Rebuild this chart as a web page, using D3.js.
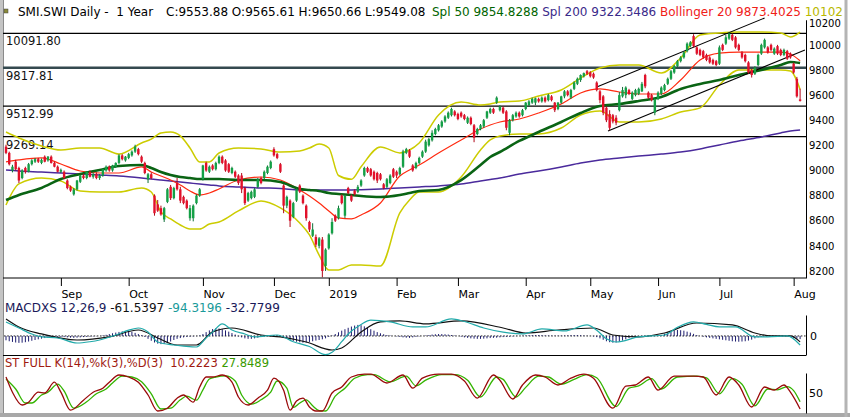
<!DOCTYPE html>
<html lang="en">
<head>
<meta charset="utf-8">
<title>SMI.SWI Daily - 1 Year</title>
<script src="https://cdn.jsdelivr.net/npm/d3@7"></script>
<style>
  body { margin: 0; background: #fff; }
  svg { display: block; font-family: "DejaVu Sans", sans-serif; }
</style>
</head>
<body>
<script>

var w = 850;
var h = 417;

// daily candles [open, high, low, close], Aug 2018 - Aug 2019
var ohlc = [
  [9190,9205,9130,9140],[9140,9150,9040,9050],[9000,9045,8985,9030],[9070,9085,9000,9010],[9020,9030,8900,8920],
  [8940,9010,8930,9000],[9020,9030,8975,8990],[8990,9060,8985,9050],[9050,9090,9040,9080],[9070,9100,9060,9090],
  [9090,9100,9060,9070],[9060,9095,9050,9085],[9110,9120,9065,9070],[9080,9115,9070,9110],[9110,9120,9055,9060],
  [9060,9070,9025,9030],[9030,9040,8985,8990],[8990,9015,8980,9005],[8990,9000,8930,8940],[8920,8930,8850,8860],
  [8870,8880,8830,8840],[8810,8860,8800,8850],[8850,8925,8840,8920],[8910,8965,8900,8960],[8960,8975,8930,8940],
  [8940,8995,8930,8990],[8990,9000,8945,8950],[8950,8980,8935,8970],[8970,8985,8930,8940],[8940,8970,8925,8960],
  [8960,9015,8950,9010],[9000,9040,8990,9030],[9030,9040,8990,9000],[9000,9045,8990,9040],[9030,9065,9020,9060],
  [9060,9130,9050,9120],[9120,9130,9080,9090],[9080,9115,9070,9110],[9100,9140,9090,9130],[9120,9160,9110,9150],
  [9150,9205,9140,9190],[9170,9180,9120,9130],[9110,9120,9060,9070],[9060,9070,8970,8980],[8930,8980,8900,8970],
  [8970,8985,8930,8940],[8800,8810,8640,8660],[8730,8765,8670,8680],[8700,8720,8640,8650],[8610,8710,8590,8700],
  [8750,8860,8740,8850],[8870,8885,8765,8780],[8780,8870,8770,8860],[8900,8940,8840,8850],[8850,8870,8740,8760],
  [8790,8800,8730,8740],[8760,8770,8690,8700],[8620,8725,8600,8700],[8620,8730,8595,8720],[8740,8810,8730,8800],
  [8800,8860,8790,8850],[8930,9045,8920,9040],[9060,9070,8990,9000],[8990,9040,8980,9030],[9040,9050,9000,9010],
  [9010,9070,9000,9060],[9060,9120,9050,9110],[9110,9120,9050,9060],[9080,9090,8990,9000],[9050,9060,8980,8990],
  [8980,9030,8970,9020],[8990,9000,8940,8950],[8960,8970,8885,8900],[8960,8980,8820,8850],[8860,8870,8725,8740],
  [8760,8830,8750,8820],[8780,8840,8770,8830],[8790,8860,8780,8850],[8870,8940,8860,8930],[8940,8950,8890,8900],
  [8940,9000,8930,8990],[8980,9040,8970,9030],[9020,9080,9010,9070],[9170,9185,9110,9120],[9130,9140,9090,9100],
  [9050,9060,8980,8990],[8880,8890,8660,8720],[8720,8800,8700,8790],[8760,8770,8550,8600],[8630,8750,8620,8740],
  [8760,8860,8750,8850],[8880,8890,8820,8830],[8800,8810,8730,8740],[8720,8730,8600,8620],[8590,8600,8510,8530],
  [8480,8580,8470,8530],[8470,8490,8390,8410],[8400,8470,8380,8460],[8450,8470,8150,8200],[8240,8380,8200,8370],
  [8380,8500,8370,8490],[8500,8620,8490,8590],[8640,8650,8590,8600],[8620,8720,8610,8700],[8800,8810,8730,8740],
  [8640,8810,8620,8800],[8860,8870,8810,8820],[8800,8810,8750,8760],[8840,8850,8800,8810],[8830,8885,8820,8870],
  [8880,8930,8870,8920],[8960,9030,8950,9020],[9020,9030,8980,8990],[9010,9020,8950,8960],[8990,9000,8920,8930],
  [8980,8990,8900,8920],[8970,8980,8920,8930],[8890,8900,8850,8860],[8870,8940,8860,8930],[8900,8970,8890,8960],
  [9010,9020,8940,8950],[8990,9000,8940,8960],[8970,9030,8960,9020],[9030,9165,9020,9150],[9140,9180,9130,9170],
  [9160,9170,9100,9110],[9040,9050,8990,9000],[9020,9070,9010,9060],[9060,9110,9050,9100],[9110,9160,9100,9150],
  [9150,9245,9140,9230],[9200,9260,9190,9250],[9240,9320,9230,9300],[9290,9340,9280,9330],[9320,9370,9310,9360],
  [9350,9400,9340,9390],[9390,9440,9380,9430],[9420,9470,9410,9460],[9440,9500,9430,9490],[9470,9480,9430,9440],
  [9450,9460,9400,9410],[9460,9470,9420,9430],[9440,9450,9400,9410],[9380,9430,9370,9420],[9420,9430,9360,9370],
  [9360,9370,9225,9260],[9290,9340,9280,9330],[9330,9370,9320,9360],[9350,9410,9340,9400],[9420,9475,9410,9470],
  [9460,9500,9450,9490],[9490,9500,9450,9460],[9540,9590,9530,9580],[9480,9520,9470,9510],[9500,9510,9450,9460],
  [9470,9480,9320,9340],[9300,9410,9280,9400],[9400,9450,9390,9440],[9430,9470,9420,9460],[9460,9470,9420,9430],
  [9440,9490,9430,9480],[9490,9545,9480,9540],[9520,9560,9510,9550],[9540,9580,9530,9570],[9540,9580,9520,9575],
  [9570,9580,9540,9550],[9550,9590,9540,9580],[9580,9590,9540,9550],[9560,9610,9550,9600],[9590,9600,9550,9560],
  [9540,9545,9465,9480],[9490,9545,9480,9540],[9540,9595,9530,9590],[9590,9640,9575,9630],[9630,9640,9590,9600],
  [9580,9650,9570,9640],[9650,9710,9640,9700],[9690,9740,9680,9730],[9720,9765,9705,9760],[9750,9780,9740,9775],
  [9790,9800,9760,9770],[9780,9790,9740,9750],[9770,9780,9730,9740],[9700,9710,9630,9640],[9630,9640,9535,9560],
  [9590,9600,9440,9460],[9500,9510,9385,9400],[9450,9480,9320,9340],[9440,9450,9375,9390],[9420,9440,9360,9380],
  [9480,9625,9470,9600],[9590,9665,9580,9640],[9600,9670,9575,9660],[9640,9650,9600,9610],[9570,9630,9560,9620],
  [9600,9650,9590,9640],[9610,9660,9600,9650],[9630,9705,9625,9690],[9760,9770,9655,9670],[9620,9630,9570,9580],
  [9600,9610,9550,9560],[9460,9580,9440,9570],[9570,9630,9560,9620],[9610,9670,9600,9660],[9640,9690,9630,9680],
  [9690,9740,9680,9730],[9730,9800,9720,9790],[9780,9840,9770,9830],[9830,9880,9820,9870],[9870,9910,9860,9900],
  [9900,9950,9890,9940],[9950,10020,9940,10010],[9990,10030,9980,10020],[10070,10085,9980,9990],[9980,9990,9920,9930],
  [9960,9970,9910,9920],[9950,9960,9890,9900],[9920,9930,9870,9880],[9900,9910,9850,9860],[9880,9890,9840,9850],
  [9870,9880,9830,9840],[9850,9995,9840,9980],[10000,10010,9950,9960],[10010,10080,10000,10060],[10050,10100,10040,10090],
  [10080,10090,10030,10040],[10060,10070,9970,9980],[10000,10010,9950,9960],[9940,9950,9890,9900],[9920,9930,9860,9870],
  [9860,9870,9770,9780],[9800,9810,9740,9760],[9770,9830,9760,9820],[9840,9930,9830,9920],[9930,10010,9920,10000],
  [9980,10050,9970,10040],[9980,9990,9930,9940],[10000,10010,9950,9960],[9930,9980,9920,9970],[9990,10000,9920,9930],
  [9960,9970,9910,9920],[9920,9970,9910,9960],[9950,9960,9880,9890],[9930,9940,9890,9900],[9850,9860,9770,9780],
  [9730,9745,9580,9590],[9565.61,9650.66,9549.08,9553.88]
];

var monthLabels = ["Sep", "Oct", "Nov", "Dec", "2019", "Feb", "Mar", "Apr", "May", "Jun", "Jul", "Aug"];
var monthIdx = [17, 38, 61, 83, 100, 121, 140, 161, 181, 202, 221, 244];
var priceTicks = [8200, 8400, 8600, 8800, 9000, 9200, 9400, 9600, 9800, 10000, 10200];

var levels = [10091.80, 9817.81, 9512.99, 9269.14];
var levelLabels = ["10091.80", "9817.81", "9512.99", "9269.14"];

// moving averages and bands, read every few sessions
var sampleIdx = [0,4,11,17,23,29,35,42,45,48,51,54,57,60,63,66,72,79,85,91,94,97,100,103,107,
                 110,116,122,125,128,134,141,147,150,153,159,165,172,178,184,190,196,203,209,215,221,227,234,240,243,246];
var sma50 = [8765,8805,8861,8932,8972,9004,9036,9044,9020,8988,8964,8948,8940,8932,8932,8932,8924,8924,8908,8853,
             8845,8837,8821,8813,8805,8797,8789,8805,8821,8837,8845,8924,9044,9107,9147,9235,9306,9386,9458,9513,
             9529,9553,9585,9649,9689,9720,9760,9800,9840,9864,9855];
var sma200 = [9004,8996,8988,8980,8972,8964,8956,8940,8932,8924,8916,8908,8900,8892,8885,8877,8869,8861,8857,8845,
              8845,8845,8845,8845,8845,8847,8853,8861,8865,8869,8877,8892,8916,8928,8940,8972,8996,9028,9060,9084,
              9100,9115,9131,9147,9171,9203,9235,9267,9299,9314,9322];
var bbUpper = [9306,9259,9195,9163,9179,9179,9131,9219,9250,9299,9306,9275,9179,9068,9068,9139,9179,9171,9147,9155,
               9179,9211,9179,8960,8930,9030,9187,9140,9163,9219,9442,9545,9521,9529,9545,9553,9593,9641,9736,9816,
               9840,9840,9776,9896,10079,10095,10102,10102,10095,10063,10102];
var bbMid = [9068,9084,9100,9052,8996,8980,8980,9028,8988,8956,8924,8885,8837,8805,8821,8853,8924,8948,8924,8845,
             8797,8741,8678,8622,8614,8646,8741,8956,9004,9044,9139,9243,9330,9362,9386,9410,9458,9529,9617,9649,
             9625,9609,9609,9720,9880,9935,9943,9943,9943,9927,9873];
var bbLower = [8725,8893,8940,8916,8837,8829,8829,8861,8829,8670,8614,8566,8534,8534,8574,8590,8678,8757,8702,8582,
               8487,8327,8208,8208,8248,8248,8240,8662,8765,8829,8829,8948,9163,9243,9275,9291,9291,9338,9442,9474,
               9386,9386,9410,9466,9498,9681,9800,9800,9800,9792,9645];

// trend channel, [session, price]
var channelUpper = [[183, 9665], [235, 10214]];
var channelLower = [[186.5, 9314], [247.5, 9959]];

// MACD 12,26,9
var macdLine = [[0,146],[4,83],[8,20],[11,-10],[16,-21],[22,-73],[26,-60],[29,-42],[34,10],[38,60],[41,83],[44,42],
                [47,-63],[52,-94],[55,-105],[59,-115],[62,-20],[64,40],[67,125],[70,62],[74,20],[77,-10],[84,10],
                [89,-60],[94,-110],[99,-195],[101,-170],[104,-60],[106,20],[110,120],[113,165],[119,146],[126,94],
                [130,94],[138,177],[142,150],[148,83],[154,40],[160,21],[166,73],[173,52],[180,115],[183,60],[186,-30],
                [189,-63],[196,-10],[204,10],[208,90],[213,146],[217,120],[221,94],[226,94],[232,-10],[236,-10],[242,0],[246,-94]];
var macdSignal = [[0,177],[4,94],[11,21],[22,-42],[32,-10],[41,62],[47,-21],[53,-94],[59,-94],[64,42],[70,83],[79,10],
                  [85,-10],[93,-63],[101,-146],[104,-125],[110,42],[116,146],[122,156],[130,125],[141,156],[154,83],
                  [161,31],[171,62],[182,83],[188,10],[196,-10],[204,31],[214,135],[225,115],[232,31],[237,0],[243,0],[246,-61.5]];
var macdHist = [
  -45,-55,-62,-68,-72,-70,-65,-58,-50,-42,-35,
  -28,-22,-18,-15,-12,-10,-10,-12,-15,-18,-20,-18,-15,-12,-10,-8,-5,-3,0,
  5,12,20,28,35,42,48,50,48,42,32,20,8,
  -10,-30,-50,-68,-80,-85,-82,-72,-58,-42,
  -30,-22,-15,-10,-8,-5,-2,5,
  20,40,58,72,80,78,70,58,45,30,15,
  -5,-15,-25,-30,-30,-25,-18,-10,-5,
  0,5,8,5,-5,-15,-28,-40,
  -52,-60,-66,-70,-68,-62,-55,-48,-42,-35,
  -25,-10,5,20,
  38,55,70,85,98,108,115,112,100,85,70,
  55,40,28,18,10,5,0,-5,-10,-15,-18,-20,
  -15,-10,-5,0,5,10,
  15,18,20,20,18,15,10,5,0,
  -8,-15,-20,-25,-28,-30,-30,-28,-25,-22,-20,-18,-15,-12,-10,-8,-5,-2,0,
  3,5,8,10,10,10,8,6,5,4,3,3,4,5,6,8,10,10,8,5,2,0,-5,-12,-25,
  -40,-55,-65,-70,-68,-60,-48,-35,-22,-12,-5,
  0,2,3,2,0,-2,0,
  10,22,35,48,58,62,60,55,45,35,22,10,
  0,-8,-15,-20,-25,-30,-35,-40,-45,-50,-55,-58,-60,-58,-55,-48,-38,-25,
  -15,-8,-3,0,2,3,2,0,-2,-5,-10,
  -20,-28,-33
];

// full stochastic
var stochK = [[0,90],[2,52],[5,20],[7,27],[10,52],[12,50],[15,77],[17,52],[20,7],[24,32],[27,52],[30,62],[32,77],
              [35,95],[38,90],[41,77],[44,45],[47,5],[50,12],[53,37],[55,45],[58,27],[60,65],[62,90],[64,90],[67,95],
              [70,77],[72,40],[75,20],[78,37],[81,57],[83,87],[86,57],[88,7],[90,30],[92,37],[94,15],[96,5],[98,5],
              [101,50],[104,65],[107,90],[111,97],[113,97],[118,75],[123,95],[126,62],[129,87],[134,97],[138,97],
              [142,80],[146,37],[151,95],[153,82],[157,35],[160,70],[164,95],[167,90],[171,70],[175,87],[179,97],
              [182,87],[188,12],[192,67],[195,70],[199,90],[202,57],[207,92],[213,92],[216,90],[220,45],[224,90],
              [227,70],[231,15],[235,65],[238,57],[241,70],[243,52],[246,10]];
var stochD = [[0,85],[3,60],[6,25],[8,25],[11,45],[13,52],[16,72],[18,55],[21,12],[25,28],[28,48],[31,60],[33,75],
              [36,92],[39,90],[42,78],[45,48],[48,10],[51,12],[54,33],[56,42],[59,32],[61,58],[63,85],[65,90],[68,93],
              [71,80],[73,45],[76,22],[79,33],[82,52],[84,80],[87,62],[89,14],[91,25],[93,33],[95,18],[97,6],[99,5],
              [102,42],[105,62],[108,87],[112,96],[114,96],[119,78],[124,92],[127,68],[130,82],[135,96],[139,96],
              [143,82],[147,40],[152,90],[154,84],[158,40],[161,64],[165,92],[168,90],[172,72],[176,84],[180,96],
              [183,88],[189,16],[193,62],[196,68],[200,86],[203,60],[208,90],[214,92],[217,88],[221,48],[225,86],
              [228,72],[232,18],[236,60],[239,58],[242,66],[244,56],[246,28]];

var xScale = d3.scaleLinear().domain([0, ohlc.length - 1]).range([6, 800.1]);
var yScale = d3.scaleLinear().domain([8144, 10200]).range([278, 19.75]);
var macdScale = d3.scaleLinear().domain([-198, 218]).range([355, 315]);
var stochScale = d3.scaleLinear().domain([0, 100]).range([413, 373]);

var svg = d3.select("body")
            .append("svg")
            .attr("width", w)
            .attr("height", h);

svg.append("rect").attr("width", w).attr("height", h).attr("fill", "#fff");

// outer frame
svg.append("line").attr("x1", 1.5).attr("x2", 1.5).attr("y1", 0).attr("y2", h)
   .attr("stroke", "#c4c4c4").attr("stroke-width", 3);
svg.append("line").attr("x1", 3.5).attr("x2", 3.5).attr("y1", 0).attr("y2", h)
   .attr("stroke", "#8a8a8a").attr("stroke-width", 1);
svg.append("line").attr("x1", 0).attr("x2", w).attr("y1", 415).attr("y2", 415)
   .attr("stroke", "#a8a8a8").attr("stroke-width", 4);
svg.append("line").attr("x1", 846).attr("x2", 846).attr("y1", 0).attr("y2", h)
   .attr("stroke", "#b4b4b4").attr("stroke-width", 3);

// builds one text line out of coloured runs
function runs(x, y, size, parts) {
  var t = svg.append("text")
             .attr("x", x)
             .attr("y", y)
             .attr("font-size", size)
             .attr("xml:space", "preserve")
             .style("white-space", "pre");
  t.selectAll("tspan")
   .data(parts)
   .enter()
   .append("tspan")
   .attr("fill", function(d) { return d[1]; })
   .text(function(d) { return d[0]; });
  return t;
}

// title line
svg.append("rect").attr("x", 4).attr("y", 9).attr("width", 4).attr("height", 4)
   .attr("fill", "#8a8a3a").attr("stroke", "#444").attr("stroke-width", 0.5);
runs(18, 16, "12px", [["SMI.SWI Daily -  1 Year", "#000"]]);
runs(166, 16, "12px", [["C:9553.88 O:9565.61 H:9650.66 L:9549.08", "#000"]]);
runs(432, 16, "12px", [
  ["Spl 50 9854.8288 ", "#006400"],
  ["Spl 200 9322.3486 ", "#3a2a8a"],
  ["Bollinger 20 9873.4025 ", "#f02018"],
  ["10102", "#b8b800"]
]);

// horizontal levels
svg.selectAll("line.level")
   .data(levels)
   .enter()
   .append("line")
   .attr("x1", 3).attr("x2", 806)
   .attr("y1", function(d) { return yScale(d); })
   .attr("y2", function(d) { return yScale(d); })
   .attr("stroke", function(d, i) { return i == 1 ? "#34494f" : "#000"; })
   .attr("stroke-width", function(d, i) { return i == 1 ? 2.4 : 1.3; });

svg.selectAll("text.level")
   .data(levels)
   .enter()
   .append("text")
   .attr("x", 6)
   .attr("y", function(d) { return yScale(d) + 12; })
   .attr("font-size", "11.5px")
   .attr("fill", "#111")
   .text(function(d, i) { return levelLabels[i]; });

// indicator lines on price
var priceLine = d3.line()
                  .x(function(d) { return xScale(d[0]); })
                  .y(function(d) { return yScale(d[1]); })
                  .curve(d3.curveMonotoneX);

function sampled(values) {
  return sampleIdx.map(function(d, i) { return [d, values[i]]; });
}

svg.append("path").datum(sampled(sma200)).attr("d", priceLine)
   .attr("fill", "none").attr("stroke", "#4a2a9c").attr("stroke-width", 1.5);
svg.append("path").datum(sampled(bbUpper)).attr("d", priceLine)
   .attr("fill", "none").attr("stroke", "#cccc00").attr("stroke-width", 1.5);
svg.append("path").datum(sampled(bbLower)).attr("d", priceLine)
   .attr("fill", "none").attr("stroke", "#cccc00").attr("stroke-width", 1.5);
svg.append("path").datum(sampled(bbMid)).attr("d", priceLine)
   .attr("fill", "none").attr("stroke", "#ff2a10").attr("stroke-width", 1.2);
svg.append("path").datum(sampled(sma50)).attr("d", priceLine)
   .attr("fill", "none").attr("stroke", "#0a6414").attr("stroke-width", 2.6);

// channel
[channelUpper, channelLower].forEach(function(c) {
  svg.append("path").datum(c)
     .attr("d", d3.line().x(function(d) { return xScale(d[0]); }).y(function(d) { return yScale(d[1]); }))
     .attr("stroke", "#000").attr("stroke-width", 1.1).attr("fill", "none");
});

// candles
var candles = svg.append("g");
candles.selectAll("line")
   .data(ohlc)
   .enter()
   .append("line")
   .attr("x1", function(d, i) { return xScale(i); })
   .attr("x2", function(d, i) { return xScale(i); })
   .attr("y1", function(d) { return yScale(d[1]); })
   .attr("y2", function(d) { return yScale(d[2]); })
   .attr("stroke", function(d) { return d[3] >= d[0] ? "#0d6e36" : "#b00818"; })
   .attr("stroke-width", 1);
candles.selectAll("rect")
   .data(ohlc)
   .enter()
   .append("rect")
   .attr("x", function(d, i) { return xScale(i) - 1.2; })
   .attr("y", function(d) { return yScale(Math.max(d[0], d[3])); })
   .attr("width", 2.4)
   .attr("height", function(d) { return Math.max(1, Math.abs(yScale(d[0]) - yScale(d[3]))); })
   .attr("fill", function(d) { return d[3] >= d[0] ? "#14a046" : "#e2102a"; });

// price axis
var yAxis = d3.axisRight(yScale).tickValues(priceTicks).tickSize(0).tickPadding(3).tickSizeOuter(0)
              .tickFormat(d3.format("d"));
var gy = svg.append("g").attr("transform", "translate(806,0)").call(yAxis);
gy.select(".domain").attr("stroke", "#000");
gy.selectAll("text").attr("font-size", "10px").attr("font-family", "DejaVu Sans").attr("fill", "#000");
gy.selectAll(".tick").filter(function(d) { return d == 10200; }).select("text").attr("dy", "0.72em");

// time axis
svg.append("line").attr("x1", 3).attr("x2", 806).attr("y1", 278).attr("y2", 278)
   .attr("stroke", "#000").attr("stroke-width", 1);
var xAxis = d3.axisBottom(xScale).tickValues(monthIdx).tickSize(8).tickPadding(4)
              .tickFormat(function(d, i) { return monthLabels[i]; });
var gx = svg.append("g").attr("transform", "translate(0,278)").call(xAxis);
gx.select(".domain").remove();
gx.selectAll("text").attr("font-size", "11px").attr("font-family", "DejaVu Sans")
  .attr("text-anchor", "start").attr("fill", "#000");

// MACD panel
svg.append("line").attr("x1", 3).attr("x2", 806).attr("y1", 355.5).attr("y2", 355.5)
   .attr("stroke", "#000").attr("stroke-width", 1);
svg.append("line").attr("x1", 4).attr("x2", 806).attr("y1", macdScale(0)).attr("y2", macdScale(0))
   .attr("stroke", "#222").attr("stroke-width", 1).attr("stroke-dasharray", "1.6,1.6");
svg.append("g").selectAll("line")
   .data(macdHist)
   .enter()
   .append("line")
   .attr("x1", function(d, i) { return xScale(i); })
   .attr("x2", function(d, i) { return xScale(i); })
   .attr("y1", macdScale(0))
   .attr("y2", function(d) { return macdScale(d); })
   .attr("stroke", "#1c1c6e")
   .attr("stroke-width", 1);

var macdPath = d3.line()
                 .x(function(d) { return xScale(d[0]); })
                 .y(function(d) { return macdScale(d[1]); })
                 .curve(d3.curveMonotoneX);
svg.append("path").datum(macdSignal).attr("d", macdPath)
   .attr("fill", "none").attr("stroke", "#111").attr("stroke-width", 1.2);
svg.append("path").datum(macdLine).attr("d", macdPath)
   .attr("fill", "none").attr("stroke", "#22aaaa").attr("stroke-width", 1.2);

var macdAxis = d3.axisRight(macdScale).tickValues([0]).tickSize(0).tickPadding(4).tickSizeOuter(0);
var gm = svg.append("g").attr("transform", "translate(806,0)").call(macdAxis);
gm.selectAll("text").attr("font-size", "11px").attr("font-family", "DejaVu Sans").attr("fill", "#000");

runs(5, 312, "12px", [
  ["MACDXS 12,26,9 ", "#1a1a5a"],
  ["-61.5397 ", "#111"],
  ["-94.3196 ", "#1a9a9a"],
  ["-32.7799", "#1a1a5a"]
]);

// stochastic panel
var stochPath = d3.line()
                  .x(function(d) { return xScale(d[0]); })
                  .y(function(d) { return stochScale(d[1]); })
                  .curve(d3.curveMonotoneX);
svg.append("path").datum(stochD).attr("d", stochPath)
   .attr("fill", "none").attr("stroke", "#33b400").attr("stroke-width", 1.3);
svg.append("path").datum(stochK).attr("d", stochPath)
   .attr("fill", "none").attr("stroke", "#9a0a0a").attr("stroke-width", 1.3);

var stochAxis = d3.axisRight(stochScale).tickValues([50]).tickSize(0).tickPadding(3).tickSizeOuter(0);
var gs = svg.append("g").attr("transform", "translate(806,0)").call(stochAxis);
gs.selectAll("text").attr("font-size", "11px").attr("font-family", "DejaVu Sans").attr("fill", "#000");

runs(5, 367, "11.5px", [
  ["ST FULL K(14),%k(3),%D(3)  10.2223 ", "#a01a10"],
  ["27.8489", "#3a9a00"]
]);

</script>
</body>
</html>
